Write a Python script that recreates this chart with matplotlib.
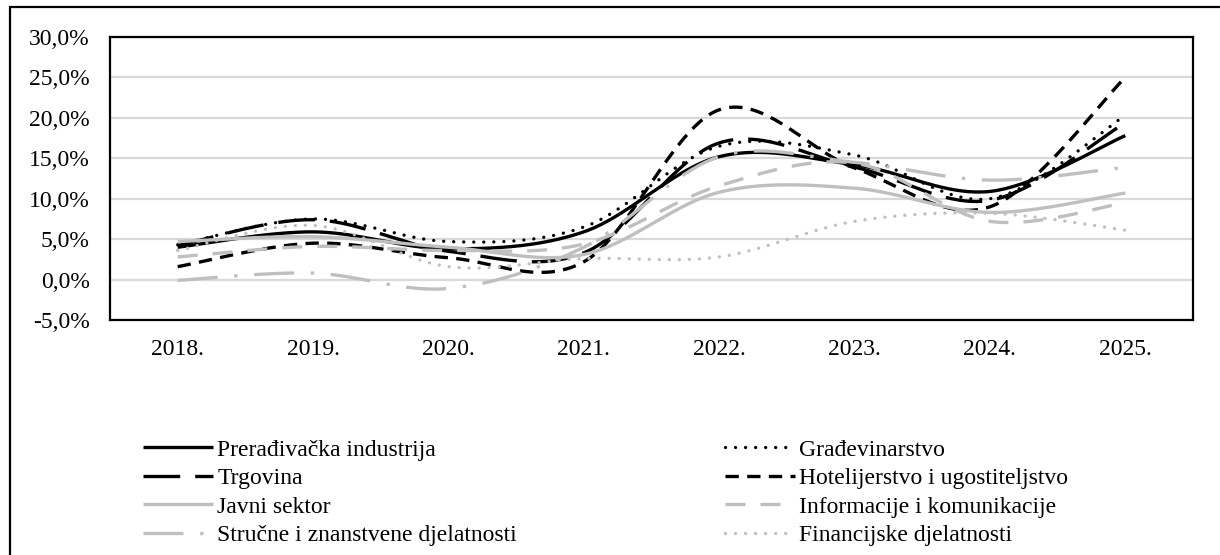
import numpy as np
import matplotlib
matplotlib.use("Agg")
from matplotlib import pyplot as plt
from matplotlib.patches import Rectangle
from matplotlib.ticker import FuncFormatter

years = ["2018.", "2019.", "2020.", "2021.", "2022.", "2023.", "2024.", "2025."]

preradivacka = [4.0, 5.9, 3.8, 5.9, 15.2, 14.2, 10.9, 17.8]
gradevinarstvo = [4.3, 7.5, 4.7, 6.5, 16.5, 15.4, 10.0, 20.3]
trgovina = [4.2, 7.4, 3.5, 3.3, 16.9, 13.9, 9.8, 19.4]
hotelijerstvo = [1.6, 4.5, 2.7, 2.2, 21.0, 13.8, 9.0, 25.0]
javni = [4.7, 5.3, 4.0, 3.1, 10.8, 11.3, 8.3, 10.7]
informacije = [2.8, 4.1, 3.6, 4.4, 11.6, 14.4, 7.2, 9.5]
strucne = [-0.1, 0.8, -1.1, 4.0, 15.2, 14.5, 12.3, 13.9]
financijske = [3.6, 6.7, 1.6, 2.6, 2.8, 7.2, 8.2, 6.1]

BLACK = "black"
GRAY = "#bfbfbf"
FONT = "Liberation Serif"


def smooth(values, n=40):
    # Excel-like smoothed line (Catmull-Rom via Bezier control points)
    y = np.asarray(values, dtype=float)
    x = np.arange(len(y), dtype=float)
    xs, ys = [], []
    for i in range(len(y) - 1):
        y0 = y[i - 1] if i > 0 else y[i]
        y3 = y[i + 2] if i + 2 < len(y) else y[i + 1]
        x0 = x[i - 1] if i > 0 else x[i]
        x3 = x[i + 2] if i + 2 < len(y) else x[i + 1]
        c1x = x[i] + (x[i + 1] - x0) / 6
        c1y = y[i] + (y[i + 1] - y0) / 6
        c2x = x[i + 1] - (x3 - x[i]) / 6
        c2y = y[i + 1] - (y3 - y[i]) / 6
        t = np.linspace(0, 1, n)
        a, b, c, d = (1 - t) ** 3, 3 * (1 - t) ** 2 * t, 3 * (1 - t) * t ** 2, t ** 3
        xs.append(a * x[i] + b * c1x + c * c2x + d * x[i + 1])
        ys.append(a * y[i] + b * c1y + c * c2y + d * y[i + 1])
    return np.concatenate(xs), np.concatenate(ys)


# name, values, colour, dash pattern, round caps
series = [
    ("Prerađivačka industrija", preradivacka, BLACK, "-", False),
    ("Građevinarstvo", gradevinarstvo, BLACK, (0, (0.01, 3.0)), True),
    ("Trgovina", trgovina, BLACK, (0, (11, 4.5)), False),
    ("Hotelijerstvo i ugostiteljstvo", hotelijerstvo, BLACK, (0, (4, 2.5)), False),
    ("Javni sektor", javni, GRAY, "-", False),
    ("Informacije i komunikacije", informacije, GRAY, (0, (6, 4.5)), False),
    ("Stručne i znanstvene djelatnosti", strucne, GRAY, (0, (12, 5, 1, 5)), False),
    ("Financijske djelatnosti", financijske, GRAY, (0, (0.01, 3.0)), True),
]

fig = plt.figure(figsize=(12.2, 5.55), dpi=100)
ax = fig.add_axes([110 / 1220, 1 - 320 / 555, (1193 - 110) / 1220, (320 - 37) / 555])

handles = {}
for name, vals, col, ls, rnd in series:
    xs, ys = smooth(vals)
    line, = ax.plot(xs, ys, color=col, lw=2.4, linestyle=ls,
                    dash_capstyle="round" if rnd else "butt",
                    solid_capstyle="butt", label=name)
    handles[name] = line

ax.set_xlim(-0.5, 7.5)
ax.set_ylim(-5, 30)
ax.set_yticks(np.arange(-5, 31, 5))
ax.yaxis.set_major_formatter(FuncFormatter(lambda v, p: f"{v:.1f}%".replace(".", ",")))
ax.set_xticks(range(len(years)))
ax.set_xticklabels(years)
ax.grid(axis="y", color="#d9d9d9", lw=1.6)
ax.set_axisbelow(True)
ax.tick_params(length=0, labelsize=17)
ax.tick_params(axis="y", pad=14.5)
ax.tick_params(axis="x", pad=14)
for lab in ax.get_xticklabels() + ax.get_yticklabels():
    lab.set_fontfamily(FONT)
for sp in ax.spines.values():
    sp.set_linewidth(1.6)
    sp.set_color("black")

# legend: two columns, row-major order like the original
order = [0, 2, 4, 6, 1, 3, 5, 7]
hs = [handles[series[i][0]] for i in order]
ls_ = [series[i][0] for i in order]
fig.legend(hs, ls_, loc="upper left", bbox_to_anchor=(143 / 1220, 1 - 439 / 555),
           ncol=2, frameon=False, borderpad=0, borderaxespad=0,
           handlelength=2.95, handletextpad=0.2, columnspacing=8.8,
           labelspacing=0.3, prop={"family": FONT, "size": 17})

# outer chart border (only left and top edges are visible)
fig.add_artist(Rectangle((10 / 1220, -0.2), 1.2, 1.2 - 7 / 555, transform=fig.transFigure,
                         fill=False, lw=1.6, edgecolor="black", clip_on=False))

fig.savefig("out.png", dpi=100, facecolor="white")
